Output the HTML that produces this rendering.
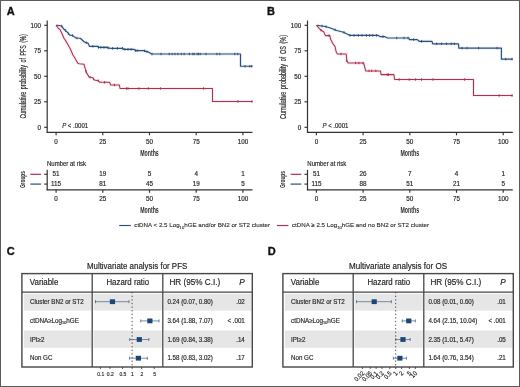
<!DOCTYPE html>
<html><head><meta charset="utf-8"><style>
html,body{margin:0;padding:0;background:#fff;}
#fig{position:relative;width:520px;height:387px;overflow:hidden;box-sizing:border-box;border:1px solid #5a5a5a;background:#fff;}
svg{position:absolute;left:-1px;top:-1px;will-change:transform;}
text{font-family:"Liberation Sans", sans-serif;} .tx{stroke:#2a2a2a;stroke-width:0.18px;} .tx2{stroke:#222;stroke-width:0.12px;}
</style></head><body>
<div id="fig"><svg width="520" height="387" viewBox="0 0 520 387">
<text x="6.7" y="14.7" font-size="11" text-anchor="start" fill="#111" font-weight="bold" stroke="#111" stroke-width="0.35">A</text>
<line x1="47.2" y1="20.5" x2="47.2" y2="132.8" stroke="#333" stroke-width="1.2" />
<line x1="46.6" y1="132.3" x2="252.5" y2="132.3" stroke="#333" stroke-width="1.2" />
<line x1="44.2" y1="25.3" x2="47.2" y2="25.3" stroke="#333" stroke-width="1.15" />
<text x="41.0" y="27.650000000000002" font-size="6.3" text-anchor="end" fill="#2a2a2a" class="tx" >100</text>
<line x1="44.2" y1="50.8" x2="47.2" y2="50.8" stroke="#333" stroke-width="1.15" />
<text x="41.0" y="53.15" font-size="6.3" text-anchor="end" fill="#2a2a2a" class="tx" >75</text>
<line x1="44.2" y1="76.3" x2="47.2" y2="76.3" stroke="#333" stroke-width="1.15" />
<text x="41.0" y="78.64999999999999" font-size="6.3" text-anchor="end" fill="#2a2a2a" class="tx" >50</text>
<line x1="44.2" y1="101.8" x2="47.2" y2="101.8" stroke="#333" stroke-width="1.15" />
<text x="41.0" y="104.14999999999999" font-size="6.3" text-anchor="end" fill="#2a2a2a" class="tx" >25</text>
<line x1="44.2" y1="127.3" x2="47.2" y2="127.3" stroke="#333" stroke-width="1.15" />
<text x="41.0" y="129.65" font-size="6.3" text-anchor="end" fill="#2a2a2a" class="tx" >0</text>
<line x1="56.1" y1="132.3" x2="56.1" y2="135.3" stroke="#333" stroke-width="1.15" />
<text x="56.1" y="144.1" font-size="6.3" text-anchor="middle" fill="#2a2a2a" class="tx" >0</text>
<line x1="102.80000000000001" y1="132.3" x2="102.80000000000001" y2="135.3" stroke="#333" stroke-width="1.15" />
<text x="102.80000000000001" y="144.1" font-size="6.3" text-anchor="middle" fill="#2a2a2a" class="tx" >25</text>
<line x1="149.5" y1="132.3" x2="149.5" y2="135.3" stroke="#333" stroke-width="1.15" />
<text x="149.5" y="144.1" font-size="6.3" text-anchor="middle" fill="#2a2a2a" class="tx" >50</text>
<line x1="196.20000000000002" y1="132.3" x2="196.20000000000002" y2="135.3" stroke="#333" stroke-width="1.15" />
<text x="196.20000000000002" y="144.1" font-size="6.3" text-anchor="middle" fill="#2a2a2a" class="tx" >75</text>
<line x1="242.9" y1="132.3" x2="242.9" y2="135.3" stroke="#333" stroke-width="1.15" />
<text x="242.9" y="144.1" font-size="6.3" text-anchor="middle" fill="#2a2a2a" class="tx" >100</text>
<text x="149.5" y="155.7" font-size="8.6" text-anchor="middle" fill="#2a2a2a" font-weight="bold" textLength="18.6" lengthAdjust="spacingAndGlyphs" >Months</text>
<text x="25.6" y="76.4" font-size="8.8" text-anchor="middle" fill="#2a2a2a" textLength="84.3" lengthAdjust="spacingAndGlyphs" style="word-spacing:1.8px" transform="rotate(-90 25.6 76.4)" stroke="#2a2a2a" stroke-width="0.2">Cumulative probability of PFS (%)</text>
<text x="62.2" y="127.5" font-size="6.6" text-anchor="start" fill="#2a2a2a" textLength="25.9" lengthAdjust="spacingAndGlyphs" class="tx" ><tspan font-style="italic">P</tspan> &lt; .0001</text>
<polyline points="56,25.3 59.4,25.5 61.7,26.2 64,29.3 66.3,31.2 69.8,35.1 72.5,35.5 74,36.6 75.9,38 80.2,38.2 84.4,42 88.2,43.4 89.4,46.3 98.2,46.3 98.2,47.4 107,47.4 108.6,48 111.7,48.4 122.9,48.4 123.5,49.3 134.2,49.3 135.4,50.6 143.8,50.6 146.5,51.6 148.5,52 151.5,54 240.5,54 240.5,66.2 252.5,66.2" fill="none" stroke="#2b4f7c" stroke-width="3.35" stroke-opacity="0.08" stroke-linejoin="round"/>
<polyline points="56,25.3 59.4,25.5 61.7,26.2 64,29.3 66.3,31.2 69.8,35.1 72.5,35.5 74,36.6 75.9,38 80.2,38.2 84.4,42 88.2,43.4 89.4,46.3 98.2,46.3 98.2,47.4 107,47.4 108.6,48 111.7,48.4 122.9,48.4 123.5,49.3 134.2,49.3 135.4,50.6 143.8,50.6 146.5,51.6 148.5,52 151.5,54 240.5,54 240.5,66.2 252.5,66.2" fill="none" stroke="#2b4f7c" stroke-width="1.15" stroke-linejoin="round"/>
<line x1="61.7" y1="25.0" x2="61.7" y2="27.4" stroke="#2b4f7c" stroke-width="1.0" />
<line x1="65.5" y1="29.33913043478261" x2="65.5" y2="31.73913043478261" stroke="#2b4f7c" stroke-width="1.0" />
<line x1="68.6" y1="32.56285714285714" x2="68.6" y2="34.962857142857146" stroke="#2b4f7c" stroke-width="1.0" />
<line x1="72.5" y1="34.3" x2="72.5" y2="36.7" stroke="#2b4f7c" stroke-width="1.0" />
<line x1="77" y1="36.85116279069767" x2="77" y2="39.25116279069768" stroke="#2b4f7c" stroke-width="1.0" />
<line x1="86.3" y1="41.49999999999999" x2="86.3" y2="43.9" stroke="#2b4f7c" stroke-width="1.0" />
<line x1="92.9" y1="45.099999999999994" x2="92.9" y2="47.5" stroke="#2b4f7c" stroke-width="1.0" />
<line x1="98.5" y1="46.199999999999996" x2="98.5" y2="48.6" stroke="#2b4f7c" stroke-width="1.0" />
<line x1="100.9" y1="46.199999999999996" x2="100.9" y2="48.6" stroke="#2b4f7c" stroke-width="1.0" />
<line x1="104" y1="46.199999999999996" x2="104" y2="48.6" stroke="#2b4f7c" stroke-width="1.0" />
<line x1="107.1" y1="46.2375" x2="107.1" y2="48.6375" stroke="#2b4f7c" stroke-width="1.0" />
<line x1="108.9" y1="46.83870967741935" x2="108.9" y2="49.23870967741936" stroke="#2b4f7c" stroke-width="1.0" />
<line x1="112.6" y1="47.199999999999996" x2="112.6" y2="49.6" stroke="#2b4f7c" stroke-width="1.0" />
<line x1="117.5" y1="47.199999999999996" x2="117.5" y2="49.6" stroke="#2b4f7c" stroke-width="1.0" />
<line x1="122.5" y1="47.199999999999996" x2="122.5" y2="49.6" stroke="#2b4f7c" stroke-width="1.0" />
<line x1="124.9" y1="48.099999999999994" x2="124.9" y2="50.5" stroke="#2b4f7c" stroke-width="1.0" />
<line x1="128" y1="48.099999999999994" x2="128" y2="50.5" stroke="#2b4f7c" stroke-width="1.0" />
<line x1="131.1" y1="48.099999999999994" x2="131.1" y2="50.5" stroke="#2b4f7c" stroke-width="1.0" />
<line x1="135.4" y1="49.4" x2="135.4" y2="51.800000000000004" stroke="#2b4f7c" stroke-width="1.0" />
<line x1="137.2" y1="49.4" x2="137.2" y2="51.800000000000004" stroke="#2b4f7c" stroke-width="1.0" />
<line x1="144.6" y1="49.69629629629629" x2="144.6" y2="52.096296296296295" stroke="#2b4f7c" stroke-width="1.0" />
<line x1="147.1" y1="50.519999999999996" x2="147.1" y2="52.92" stroke="#2b4f7c" stroke-width="1.0" />
<line x1="152" y1="52.8" x2="152" y2="55.2" stroke="#2b4f7c" stroke-width="1.0" />
<line x1="161" y1="52.8" x2="161" y2="55.2" stroke="#2b4f7c" stroke-width="1.0" />
<line x1="169.2" y1="52.8" x2="169.2" y2="55.2" stroke="#2b4f7c" stroke-width="1.0" />
<line x1="172.1" y1="52.8" x2="172.1" y2="55.2" stroke="#2b4f7c" stroke-width="1.0" />
<line x1="175" y1="52.8" x2="175" y2="55.2" stroke="#2b4f7c" stroke-width="1.0" />
<line x1="177.9" y1="52.8" x2="177.9" y2="55.2" stroke="#2b4f7c" stroke-width="1.0" />
<line x1="181.3" y1="52.8" x2="181.3" y2="55.2" stroke="#2b4f7c" stroke-width="1.0" />
<line x1="184.1" y1="52.8" x2="184.1" y2="55.2" stroke="#2b4f7c" stroke-width="1.0" />
<line x1="189.4" y1="52.8" x2="189.4" y2="55.2" stroke="#2b4f7c" stroke-width="1.0" />
<line x1="192.8" y1="52.8" x2="192.8" y2="55.2" stroke="#2b4f7c" stroke-width="1.0" />
<line x1="194.2" y1="52.8" x2="194.2" y2="55.2" stroke="#2b4f7c" stroke-width="1.0" />
<line x1="197.1" y1="52.8" x2="197.1" y2="55.2" stroke="#2b4f7c" stroke-width="1.0" />
<line x1="198.5" y1="52.8" x2="198.5" y2="55.2" stroke="#2b4f7c" stroke-width="1.0" />
<line x1="200.2" y1="52.8" x2="200.2" y2="55.2" stroke="#2b4f7c" stroke-width="1.0" />
<line x1="206" y1="52.8" x2="206" y2="55.2" stroke="#2b4f7c" stroke-width="1.0" />
<line x1="216.9" y1="52.8" x2="216.9" y2="55.2" stroke="#2b4f7c" stroke-width="1.0" />
<line x1="219.8" y1="52.8" x2="219.8" y2="55.2" stroke="#2b4f7c" stroke-width="1.0" />
<line x1="234.8" y1="52.8" x2="234.8" y2="55.2" stroke="#2b4f7c" stroke-width="1.0" />
<line x1="237.7" y1="52.8" x2="237.7" y2="55.2" stroke="#2b4f7c" stroke-width="1.0" />
<line x1="245.1" y1="65.0" x2="245.1" y2="67.4" stroke="#2b4f7c" stroke-width="1.0" />
<line x1="249.8" y1="65.0" x2="249.8" y2="67.4" stroke="#2b4f7c" stroke-width="1.0" />
<line x1="251.7" y1="65.0" x2="251.7" y2="67.4" stroke="#2b4f7c" stroke-width="1.0" />
<polyline points="56,25.3 58.6,28.5 60.2,29.7 64,38.2 66.7,42.4 70.5,49.3 72.9,55 74.6,57.5 75.8,59.7 77.8,63.3 79.3,63.7 84,64.3 86.3,72.4 89.2,77.1 92.7,77.7 94.4,80 98.5,80.8 99.7,82.3 109.5,82.3 110.7,85 119.4,85 120,88.5 212.5,88.5 212.5,101.5 252.5,101.5" fill="none" stroke="#b02e4e" stroke-width="3.25" stroke-opacity="0.08" stroke-linejoin="round"/>
<polyline points="56,25.3 58.6,28.5 60.2,29.7 64,38.2 66.7,42.4 70.5,49.3 72.9,55 74.6,57.5 75.8,59.7 77.8,63.3 79.3,63.7 84,64.3 86.3,72.4 89.2,77.1 92.7,77.7 94.4,80 98.5,80.8 99.7,82.3 109.5,82.3 110.7,85 119.4,85 120,88.5 212.5,88.5 212.5,101.5 252.5,101.5" fill="none" stroke="#b02e4e" stroke-width="1.05" stroke-linejoin="round"/>
<line x1="86" y1="70.14347826086957" x2="86" y2="72.54347826086958" stroke="#b02e4e" stroke-width="1.0" />
<line x1="90" y1="76.03714285714285" x2="90" y2="78.43714285714286" stroke="#b02e4e" stroke-width="1.0" />
<line x1="93.6" y1="77.71764705882352" x2="93.6" y2="80.11764705882352" stroke="#b02e4e" stroke-width="1.0" />
<line x1="98.3" y1="79.56097560975608" x2="98.3" y2="81.96097560975609" stroke="#b02e4e" stroke-width="1.0" />
<line x1="104.6" y1="81.1" x2="104.6" y2="83.5" stroke="#b02e4e" stroke-width="1.0" />
<line x1="114.4" y1="83.8" x2="114.4" y2="86.2" stroke="#b02e4e" stroke-width="1.0" />
<line x1="126.5" y1="87.3" x2="126.5" y2="89.7" stroke="#b02e4e" stroke-width="1.0" />
<line x1="128" y1="87.3" x2="128" y2="89.7" stroke="#b02e4e" stroke-width="1.0" />
<line x1="138.9" y1="87.3" x2="138.9" y2="89.7" stroke="#b02e4e" stroke-width="1.0" />
<line x1="148.3" y1="87.3" x2="148.3" y2="89.7" stroke="#b02e4e" stroke-width="1.0" />
<line x1="160.4" y1="87.3" x2="160.4" y2="89.7" stroke="#b02e4e" stroke-width="1.0" />
<line x1="203.6" y1="87.3" x2="203.6" y2="89.7" stroke="#b02e4e" stroke-width="1.0" />
<line x1="238" y1="100.3" x2="238" y2="102.7" stroke="#b02e4e" stroke-width="1.0" />
<line x1="252" y1="100.3" x2="252" y2="102.7" stroke="#b02e4e" stroke-width="1.0" />
<text x="47" y="166" font-size="6.6" text-anchor="start" fill="#2a2a2a" textLength="39.01" lengthAdjust="spacingAndGlyphs" class="tx" >Number at risk</text>
<line x1="47.2" y1="169.8" x2="47.2" y2="190.3" stroke="#333" stroke-width="1.2" />
<line x1="46.6" y1="189.8" x2="252.5" y2="189.8" stroke="#333" stroke-width="1.2" />
<line x1="44.2" y1="174.3" x2="47.2" y2="174.3" stroke="#333" stroke-width="1.15" />
<line x1="44.2" y1="184.1" x2="47.2" y2="184.1" stroke="#333" stroke-width="1.15" />
<line x1="30.3" y1="174.3" x2="41" y2="174.3" stroke="#b02e4e" stroke-width="1.2" />
<line x1="30.3" y1="184.1" x2="41" y2="184.1" stroke="#2b4f7c" stroke-width="1.2" />
<text x="24.8" y="179.6" font-size="8.0" text-anchor="middle" fill="#2a2a2a" font-weight="bold" textLength="17" lengthAdjust="spacingAndGlyphs" transform="rotate(-90 24.8 179.6)" >Groups</text>
<text x="56.1" y="176.3" font-size="6.3" text-anchor="middle" fill="#2a2a2a" class="tx" >51</text>
<text x="56.1" y="186.2" font-size="6.3" text-anchor="middle" fill="#2a2a2a" class="tx" >115</text>
<line x1="56.1" y1="189.8" x2="56.1" y2="192.8" stroke="#333" stroke-width="1.15" />
<text x="56.1" y="201.3" font-size="6.3" text-anchor="middle" fill="#2a2a2a" class="tx" >0</text>
<text x="102.80000000000001" y="176.3" font-size="6.3" text-anchor="middle" fill="#2a2a2a" class="tx" >19</text>
<text x="102.80000000000001" y="186.2" font-size="6.3" text-anchor="middle" fill="#2a2a2a" class="tx" >81</text>
<line x1="102.80000000000001" y1="189.8" x2="102.80000000000001" y2="192.8" stroke="#333" stroke-width="1.15" />
<text x="102.80000000000001" y="201.3" font-size="6.3" text-anchor="middle" fill="#2a2a2a" class="tx" >25</text>
<text x="149.5" y="176.3" font-size="6.3" text-anchor="middle" fill="#2a2a2a" class="tx" >5</text>
<text x="149.5" y="186.2" font-size="6.3" text-anchor="middle" fill="#2a2a2a" class="tx" >45</text>
<line x1="149.5" y1="189.8" x2="149.5" y2="192.8" stroke="#333" stroke-width="1.15" />
<text x="149.5" y="201.3" font-size="6.3" text-anchor="middle" fill="#2a2a2a" class="tx" >50</text>
<text x="196.20000000000002" y="176.3" font-size="6.3" text-anchor="middle" fill="#2a2a2a" class="tx" >4</text>
<text x="196.20000000000002" y="186.2" font-size="6.3" text-anchor="middle" fill="#2a2a2a" class="tx" >19</text>
<line x1="196.20000000000002" y1="189.8" x2="196.20000000000002" y2="192.8" stroke="#333" stroke-width="1.15" />
<text x="196.20000000000002" y="201.3" font-size="6.3" text-anchor="middle" fill="#2a2a2a" class="tx" >75</text>
<text x="242.9" y="176.3" font-size="6.3" text-anchor="middle" fill="#2a2a2a" class="tx" >1</text>
<text x="242.9" y="186.2" font-size="6.3" text-anchor="middle" fill="#2a2a2a" class="tx" >5</text>
<line x1="242.9" y1="189.8" x2="242.9" y2="192.8" stroke="#333" stroke-width="1.15" />
<text x="242.9" y="201.3" font-size="6.3" text-anchor="middle" fill="#2a2a2a" class="tx" >100</text>
<text x="149.5" y="212.9" font-size="8.6" text-anchor="middle" fill="#2a2a2a" font-weight="bold" textLength="18.6" lengthAdjust="spacingAndGlyphs" >Months</text>
<text x="267.0" y="14.7" font-size="11" text-anchor="start" fill="#111" font-weight="bold" stroke="#111" stroke-width="0.35">B</text>
<line x1="307.5" y1="20.5" x2="307.5" y2="132.8" stroke="#333" stroke-width="1.2" />
<line x1="306.9" y1="132.3" x2="512.8" y2="132.3" stroke="#333" stroke-width="1.2" />
<line x1="304.5" y1="25.3" x2="307.5" y2="25.3" stroke="#333" stroke-width="1.15" />
<text x="301.3" y="27.650000000000002" font-size="6.3" text-anchor="end" fill="#2a2a2a" class="tx" >100</text>
<line x1="304.5" y1="50.8" x2="307.5" y2="50.8" stroke="#333" stroke-width="1.15" />
<text x="301.3" y="53.15" font-size="6.3" text-anchor="end" fill="#2a2a2a" class="tx" >75</text>
<line x1="304.5" y1="76.3" x2="307.5" y2="76.3" stroke="#333" stroke-width="1.15" />
<text x="301.3" y="78.64999999999999" font-size="6.3" text-anchor="end" fill="#2a2a2a" class="tx" >50</text>
<line x1="304.5" y1="101.8" x2="307.5" y2="101.8" stroke="#333" stroke-width="1.15" />
<text x="301.3" y="104.14999999999999" font-size="6.3" text-anchor="end" fill="#2a2a2a" class="tx" >25</text>
<line x1="304.5" y1="127.3" x2="307.5" y2="127.3" stroke="#333" stroke-width="1.15" />
<text x="301.3" y="129.65" font-size="6.3" text-anchor="end" fill="#2a2a2a" class="tx" >0</text>
<line x1="316.40000000000003" y1="132.3" x2="316.40000000000003" y2="135.3" stroke="#333" stroke-width="1.15" />
<text x="316.40000000000003" y="144.1" font-size="6.3" text-anchor="middle" fill="#2a2a2a" class="tx" >0</text>
<line x1="363.1" y1="132.3" x2="363.1" y2="135.3" stroke="#333" stroke-width="1.15" />
<text x="363.1" y="144.1" font-size="6.3" text-anchor="middle" fill="#2a2a2a" class="tx" >25</text>
<line x1="409.80000000000007" y1="132.3" x2="409.80000000000007" y2="135.3" stroke="#333" stroke-width="1.15" />
<text x="409.80000000000007" y="144.1" font-size="6.3" text-anchor="middle" fill="#2a2a2a" class="tx" >50</text>
<line x1="456.50000000000006" y1="132.3" x2="456.50000000000006" y2="135.3" stroke="#333" stroke-width="1.15" />
<text x="456.50000000000006" y="144.1" font-size="6.3" text-anchor="middle" fill="#2a2a2a" class="tx" >75</text>
<line x1="503.20000000000005" y1="132.3" x2="503.20000000000005" y2="135.3" stroke="#333" stroke-width="1.15" />
<text x="503.20000000000005" y="144.1" font-size="6.3" text-anchor="middle" fill="#2a2a2a" class="tx" >100</text>
<text x="409.8" y="155.7" font-size="8.6" text-anchor="middle" fill="#2a2a2a" font-weight="bold" textLength="18.6" lengthAdjust="spacingAndGlyphs" >Months</text>
<text x="285.90000000000003" y="77.0" font-size="8.8" text-anchor="middle" fill="#2a2a2a" textLength="84.1" lengthAdjust="spacingAndGlyphs" style="word-spacing:1.8px" transform="rotate(-90 285.90000000000003 77.0)" stroke="#2a2a2a" stroke-width="0.2">Cumulative probability of OS (%)</text>
<text x="322.5" y="127.5" font-size="6.6" text-anchor="start" fill="#2a2a2a" textLength="25.9" lengthAdjust="spacingAndGlyphs" class="tx" ><tspan font-style="italic">P</tspan> &lt; .0001</text>
<polyline points="316.5,25.3 325.4,26.5 331,28.3 336.7,30.5 343.5,32.2 348.1,34.5 350,35.4 378.2,35.4 380.1,36.6 384.4,36.6 387.5,38 409,38 409.3,39.6 417.3,39.6 419.2,41.3 431.9,41.3 432.7,43.8 458.5,43.8 458.8,48.1 501.4,48.1 501.4,59.1 512.7,59.1" fill="none" stroke="#2b4f7c" stroke-width="3.35" stroke-opacity="0.08" stroke-linejoin="round"/>
<polyline points="316.5,25.3 325.4,26.5 331,28.3 336.7,30.5 343.5,32.2 348.1,34.5 350,35.4 378.2,35.4 380.1,36.6 384.4,36.6 387.5,38 409,38 409.3,39.6 417.3,39.6 419.2,41.3 431.9,41.3 432.7,43.8 458.5,43.8 458.8,48.1 501.4,48.1 501.4,59.1 512.7,59.1" fill="none" stroke="#2b4f7c" stroke-width="1.15" stroke-linejoin="round"/>
<line x1="322" y1="24.841573033707867" x2="322" y2="27.241573033707866" stroke="#2b4f7c" stroke-width="1.0" />
<line x1="326" y1="25.49285714285715" x2="326" y2="27.89285714285715" stroke="#2b4f7c" stroke-width="1.0" />
<line x1="335" y1="28.64385964912281" x2="335" y2="31.04385964912281" stroke="#2b4f7c" stroke-width="1.0" />
<line x1="344" y1="31.250000000000004" x2="344" y2="33.650000000000006" stroke="#2b4f7c" stroke-width="1.0" />
<line x1="349.9" y1="34.15263157894735" x2="349.9" y2="36.552631578947356" stroke="#2b4f7c" stroke-width="1.0" />
<line x1="354" y1="34.199999999999996" x2="354" y2="36.6" stroke="#2b4f7c" stroke-width="1.0" />
<line x1="358.4" y1="34.199999999999996" x2="358.4" y2="36.6" stroke="#2b4f7c" stroke-width="1.0" />
<line x1="362" y1="34.199999999999996" x2="362" y2="36.6" stroke="#2b4f7c" stroke-width="1.0" />
<line x1="366.5" y1="34.199999999999996" x2="366.5" y2="36.6" stroke="#2b4f7c" stroke-width="1.0" />
<line x1="369.6" y1="34.199999999999996" x2="369.6" y2="36.6" stroke="#2b4f7c" stroke-width="1.0" />
<line x1="372.7" y1="34.199999999999996" x2="372.7" y2="36.6" stroke="#2b4f7c" stroke-width="1.0" />
<line x1="376.5" y1="34.199999999999996" x2="376.5" y2="36.6" stroke="#2b4f7c" stroke-width="1.0" />
<line x1="383" y1="35.4" x2="383" y2="37.800000000000004" stroke="#2b4f7c" stroke-width="1.0" />
<line x1="396.7" y1="36.8" x2="396.7" y2="39.2" stroke="#2b4f7c" stroke-width="1.0" />
<line x1="404" y1="36.8" x2="404" y2="39.2" stroke="#2b4f7c" stroke-width="1.0" />
<line x1="408" y1="36.8" x2="408" y2="39.2" stroke="#2b4f7c" stroke-width="1.0" />
<line x1="413.6" y1="38.4" x2="413.6" y2="40.800000000000004" stroke="#2b4f7c" stroke-width="1.0" />
<line x1="421.6" y1="40.099999999999994" x2="421.6" y2="42.5" stroke="#2b4f7c" stroke-width="1.0" />
<line x1="436.7" y1="42.599999999999994" x2="436.7" y2="45.0" stroke="#2b4f7c" stroke-width="1.0" />
<line x1="441.6" y1="42.599999999999994" x2="441.6" y2="45.0" stroke="#2b4f7c" stroke-width="1.0" />
<line x1="446.5" y1="42.599999999999994" x2="446.5" y2="45.0" stroke="#2b4f7c" stroke-width="1.0" />
<line x1="451.3" y1="42.599999999999994" x2="451.3" y2="45.0" stroke="#2b4f7c" stroke-width="1.0" />
<line x1="454.4" y1="42.599999999999994" x2="454.4" y2="45.0" stroke="#2b4f7c" stroke-width="1.0" />
<line x1="462" y1="46.9" x2="462" y2="49.300000000000004" stroke="#2b4f7c" stroke-width="1.0" />
<line x1="467" y1="46.9" x2="467" y2="49.300000000000004" stroke="#2b4f7c" stroke-width="1.0" />
<line x1="478.6" y1="46.9" x2="478.6" y2="49.300000000000004" stroke="#2b4f7c" stroke-width="1.0" />
<line x1="497" y1="46.9" x2="497" y2="49.300000000000004" stroke="#2b4f7c" stroke-width="1.0" />
<line x1="505.7" y1="57.9" x2="505.7" y2="60.300000000000004" stroke="#2b4f7c" stroke-width="1.0" />
<line x1="512" y1="57.9" x2="512" y2="60.300000000000004" stroke="#2b4f7c" stroke-width="1.0" />
<polyline points="316.5,25.3 319.1,28.3 321.4,30.5 323.7,31.7 325.4,35.6 329.9,35.6 330.5,39 332.75,43.6 335,46.4 336.2,52 337.4,54 346.2,54 346.8,60.8 348.2,63 363.6,63 365.7,70.9 380.5,70.9 381.1,74.6 393.9,74.6 394.6,79.5 473.5,79.5 473.5,95.5 512.7,95.5" fill="none" stroke="#b02e4e" stroke-width="3.25" stroke-opacity="0.08" stroke-linejoin="round"/>
<polyline points="316.5,25.3 319.1,28.3 321.4,30.5 323.7,31.7 325.4,35.6 329.9,35.6 330.5,39 332.75,43.6 335,46.4 336.2,52 337.4,54 346.2,54 346.8,60.8 348.2,63 363.6,63 365.7,70.9 380.5,70.9 381.1,74.6 393.9,74.6 394.6,79.5 473.5,79.5 473.5,95.5 512.7,95.5" fill="none" stroke="#b02e4e" stroke-width="1.05" stroke-linejoin="round"/>
<line x1="321" y1="28.91739130434784" x2="321" y2="31.31739130434784" stroke="#b02e4e" stroke-width="1.0" />
<line x1="329" y1="34.4" x2="329" y2="36.800000000000004" stroke="#b02e4e" stroke-width="1.0" />
<line x1="341" y1="52.8" x2="341" y2="55.2" stroke="#b02e4e" stroke-width="1.0" />
<line x1="346.8" y1="59.599999999999994" x2="346.8" y2="62.0" stroke="#b02e4e" stroke-width="1.0" />
<line x1="355.6" y1="61.8" x2="355.6" y2="64.2" stroke="#b02e4e" stroke-width="1.0" />
<line x1="358.9" y1="61.8" x2="358.9" y2="64.2" stroke="#b02e4e" stroke-width="1.0" />
<line x1="363" y1="61.8" x2="363" y2="64.2" stroke="#b02e4e" stroke-width="1.0" />
<line x1="369" y1="69.7" x2="369" y2="72.10000000000001" stroke="#b02e4e" stroke-width="1.0" />
<line x1="371.7" y1="69.7" x2="371.7" y2="72.10000000000001" stroke="#b02e4e" stroke-width="1.0" />
<line x1="375.8" y1="69.7" x2="375.8" y2="72.10000000000001" stroke="#b02e4e" stroke-width="1.0" />
<line x1="387.2" y1="73.39999999999999" x2="387.2" y2="75.8" stroke="#b02e4e" stroke-width="1.0" />
<line x1="388.5" y1="73.39999999999999" x2="388.5" y2="75.8" stroke="#b02e4e" stroke-width="1.0" />
<line x1="399.2" y1="78.3" x2="399.2" y2="80.7" stroke="#b02e4e" stroke-width="1.0" />
<line x1="409.2" y1="78.3" x2="409.2" y2="80.7" stroke="#b02e4e" stroke-width="1.0" />
<line x1="415.4" y1="78.3" x2="415.4" y2="80.7" stroke="#b02e4e" stroke-width="1.0" />
<line x1="421.5" y1="78.3" x2="421.5" y2="80.7" stroke="#b02e4e" stroke-width="1.0" />
<line x1="433" y1="78.3" x2="433" y2="80.7" stroke="#b02e4e" stroke-width="1.0" />
<line x1="464.6" y1="78.3" x2="464.6" y2="80.7" stroke="#b02e4e" stroke-width="1.0" />
<line x1="499.2" y1="94.3" x2="499.2" y2="96.7" stroke="#b02e4e" stroke-width="1.0" />
<line x1="512" y1="94.3" x2="512" y2="96.7" stroke="#b02e4e" stroke-width="1.0" />
<text x="307.3" y="166" font-size="6.6" text-anchor="start" fill="#2a2a2a" textLength="39.01" lengthAdjust="spacingAndGlyphs" class="tx" >Number at risk</text>
<line x1="307.5" y1="169.8" x2="307.5" y2="190.3" stroke="#333" stroke-width="1.2" />
<line x1="306.9" y1="189.8" x2="512.8" y2="189.8" stroke="#333" stroke-width="1.2" />
<line x1="304.5" y1="174.3" x2="307.5" y2="174.3" stroke="#333" stroke-width="1.15" />
<line x1="304.5" y1="184.1" x2="307.5" y2="184.1" stroke="#333" stroke-width="1.15" />
<line x1="290.6" y1="174.3" x2="301.3" y2="174.3" stroke="#b02e4e" stroke-width="1.2" />
<line x1="290.6" y1="184.1" x2="301.3" y2="184.1" stroke="#2b4f7c" stroke-width="1.2" />
<text x="285.1" y="179.6" font-size="8.0" text-anchor="middle" fill="#2a2a2a" font-weight="bold" textLength="17" lengthAdjust="spacingAndGlyphs" transform="rotate(-90 285.1 179.6)" >Groups</text>
<text x="316.40000000000003" y="176.3" font-size="6.3" text-anchor="middle" fill="#2a2a2a" class="tx" >51</text>
<text x="316.40000000000003" y="186.2" font-size="6.3" text-anchor="middle" fill="#2a2a2a" class="tx" >115</text>
<line x1="316.40000000000003" y1="189.8" x2="316.40000000000003" y2="192.8" stroke="#333" stroke-width="1.15" />
<text x="316.40000000000003" y="201.3" font-size="6.3" text-anchor="middle" fill="#2a2a2a" class="tx" >0</text>
<text x="363.1" y="176.3" font-size="6.3" text-anchor="middle" fill="#2a2a2a" class="tx" >26</text>
<text x="363.1" y="186.2" font-size="6.3" text-anchor="middle" fill="#2a2a2a" class="tx" >88</text>
<line x1="363.1" y1="189.8" x2="363.1" y2="192.8" stroke="#333" stroke-width="1.15" />
<text x="363.1" y="201.3" font-size="6.3" text-anchor="middle" fill="#2a2a2a" class="tx" >25</text>
<text x="409.80000000000007" y="176.3" font-size="6.3" text-anchor="middle" fill="#2a2a2a" class="tx" >7</text>
<text x="409.80000000000007" y="186.2" font-size="6.3" text-anchor="middle" fill="#2a2a2a" class="tx" >51</text>
<line x1="409.80000000000007" y1="189.8" x2="409.80000000000007" y2="192.8" stroke="#333" stroke-width="1.15" />
<text x="409.80000000000007" y="201.3" font-size="6.3" text-anchor="middle" fill="#2a2a2a" class="tx" >50</text>
<text x="456.50000000000006" y="176.3" font-size="6.3" text-anchor="middle" fill="#2a2a2a" class="tx" >4</text>
<text x="456.50000000000006" y="186.2" font-size="6.3" text-anchor="middle" fill="#2a2a2a" class="tx" >21</text>
<line x1="456.50000000000006" y1="189.8" x2="456.50000000000006" y2="192.8" stroke="#333" stroke-width="1.15" />
<text x="456.50000000000006" y="201.3" font-size="6.3" text-anchor="middle" fill="#2a2a2a" class="tx" >75</text>
<text x="503.20000000000005" y="176.3" font-size="6.3" text-anchor="middle" fill="#2a2a2a" class="tx" >1</text>
<text x="503.20000000000005" y="186.2" font-size="6.3" text-anchor="middle" fill="#2a2a2a" class="tx" >5</text>
<line x1="503.20000000000005" y1="189.8" x2="503.20000000000005" y2="192.8" stroke="#333" stroke-width="1.15" />
<text x="503.20000000000005" y="201.3" font-size="6.3" text-anchor="middle" fill="#2a2a2a" class="tx" >100</text>
<text x="409.8" y="212.9" font-size="8.6" text-anchor="middle" fill="#2a2a2a" font-weight="bold" textLength="18.6" lengthAdjust="spacingAndGlyphs" >Months</text>
<line x1="119.2" y1="225.5" x2="130.8" y2="225.5" stroke="#2b4f7c" stroke-width="1.15" />
<text x="134.3" y="227.2" font-size="6" text-anchor="start" fill="#333" textLength="135.7" lengthAdjust="spacingAndGlyphs" class="tx2" >ctDNA &lt; 2.5 Log<tspan font-size="4.0" dy="1.6">10</tspan><tspan dy="-1.6">hGE and/or BN2 or ST2 cluster</tspan></text>
<line x1="276.9" y1="225.5" x2="288.5" y2="225.5" stroke="#b02e4e" stroke-width="1.15" />
<text x="292" y="227.2" font-size="6" text-anchor="start" fill="#333" textLength="137" lengthAdjust="spacingAndGlyphs" class="tx2" >ctDNA ≥ 2.5 Log<tspan font-size="4.0" dy="1.6">10</tspan><tspan dy="-1.6">hGE and no BN2 or ST2 cluster</tspan></text>
<text x="6.7" y="255.4" font-size="11" text-anchor="start" fill="#111" font-weight="bold" stroke="#111" stroke-width="0.35">C</text>
<text x="137.1" y="268.6" font-size="8.3" text-anchor="middle" fill="#222" textLength="100.4" lengthAdjust="spacingAndGlyphs" class="tx" >Multivariate analysis for PFS</text>
<rect x="23.799999999999997" y="293.79999999999995" width="67.70000000000002" height="16.800000000000068" fill="#e6e6e6" />
<rect x="93.5" y="293.79999999999995" width="68.30000000000001" height="16.800000000000068" fill="#e6e6e6" />
<rect x="164.10000000000002" y="293.79999999999995" width="87.4" height="16.800000000000068" fill="#e6e6e6" />
<rect x="23.799999999999997" y="330.5" width="67.70000000000002" height="17.30000000000001" fill="#e6e6e6" />
<rect x="93.5" y="330.5" width="68.30000000000001" height="17.30000000000001" fill="#e6e6e6" />
<rect x="164.10000000000002" y="330.5" width="87.4" height="17.30000000000001" fill="#e6e6e6" />
<line x1="132.1" y1="292.1" x2="132.1" y2="367" stroke="#333" stroke-width="0.9" stroke-dasharray="1.3,2.3"/>
<rect x="21.9" y="273.6" width="230.4" height="93.39999999999998" fill="none" stroke="#474747" stroke-width="1.4"/>
<line x1="21.9" y1="292.1" x2="252.3" y2="292.1" stroke="#474747" stroke-width="1.4" />
<line x1="92.2" y1="273.6" x2="92.2" y2="367" stroke="#474747" stroke-width="1.3" />
<line x1="162.8" y1="273.6" x2="162.8" y2="367" stroke="#474747" stroke-width="1.3" />
<text x="29.8" y="284.6" font-size="8.25" text-anchor="start" fill="#222" textLength="28.5" lengthAdjust="spacingAndGlyphs" class="tx" >Variable</text>
<text x="127.8" y="284.6" font-size="8.25" text-anchor="middle" fill="#222" textLength="42.7" lengthAdjust="spacingAndGlyphs" class="tx" >Hazard ratio</text>
<text x="169.4" y="284.6" font-size="8.3" text-anchor="start" fill="#222" textLength="50.8" lengthAdjust="spacingAndGlyphs" class="tx" >HR (95% C.I.)</text>
<text x="239.2" y="284.6" font-size="8.2" text-anchor="start" fill="#222" style="font-style:italic" class="tx" >P</text>
<text x="30" y="303.8" font-size="6.57" text-anchor="start" fill="#2a2a2a" textLength="53.75" lengthAdjust="spacingAndGlyphs" class="tx">Cluster BN2 or ST2</text>
<text x="167.4" y="303.9" font-size="6.57" text-anchor="start" fill="#2a2a2a" textLength="45.49" lengthAdjust="spacingAndGlyphs" class="tx">0.24 (0.07, 0.80)</text>
<text x="244.8" y="303.9" font-size="6.57" text-anchor="end" fill="#2a2a2a" textLength="8.62" lengthAdjust="spacingAndGlyphs" class="tx">.02</text>
<line x1="95.48960786845194" y1="301.7" x2="129.02795258764462" y2="301.7" stroke="#5a7292" stroke-width="0.8" />
<line x1="95.48960786845194" y1="300.2" x2="95.48960786845194" y2="303.2" stroke="#4a6080" stroke-width="0.8" />
<line x1="129.02795258764462" y1="300.2" x2="129.02795258764462" y2="303.2" stroke="#4a6080" stroke-width="0.8" />
<rect x="109.85269636225792" y="299.3" width="5.2" height="4.8" fill="#1c4677" />
<text x="30" y="323.0" font-size="6.6" text-anchor="start" fill="#2a2a2a" textLength="48.9" lengthAdjust="spacingAndGlyphs" class="tx">ctDNA≥Log<tspan font-size="4.0" dy="1.4">10</tspan><tspan dy="-1.4">hGE</tspan></text>
<text x="167.4" y="323.09999999999997" font-size="6.57" text-anchor="start" fill="#2a2a2a" textLength="45.49" lengthAdjust="spacingAndGlyphs" class="tx">3.64 (1.88, 7.07)</text>
<text x="244.8" y="323.09999999999997" font-size="6.57" text-anchor="end" fill="#2a2a2a" textLength="17.41" lengthAdjust="spacingAndGlyphs" class="tx">&lt; .001</text>
<line x1="140.79080382165864" y1="320.9" x2="159.0265954173617" y2="320.9" stroke="#5a7292" stroke-width="0.8" />
<line x1="140.79080382165864" y1="319.4" x2="140.79080382165864" y2="322.4" stroke="#4a6080" stroke-width="0.8" />
<line x1="159.0265954173617" y1="319.4" x2="159.0265954173617" y2="322.4" stroke="#4a6080" stroke-width="0.8" />
<rect x="147.28691386167506" y="318.5" width="5.2" height="4.8" fill="#1c4677" />
<text x="30" y="341.6" font-size="6.57" text-anchor="start" fill="#2a2a2a" textLength="14.43" lengthAdjust="spacingAndGlyphs" class="tx">IPI≥2</text>
<text x="167.4" y="341.7" font-size="6.57" text-anchor="start" fill="#2a2a2a" textLength="45.49" lengthAdjust="spacingAndGlyphs" class="tx">1.69 (0.84, 3.38)</text>
<text x="244.8" y="341.7" font-size="6.57" text-anchor="end" fill="#2a2a2a" textLength="8.62" lengthAdjust="spacingAndGlyphs" class="tx">.14</text>
<line x1="129.69965336816165" y1="339.5" x2="148.86665939880166" y2="339.5" stroke="#5a7292" stroke-width="0.8" />
<line x1="129.69965336816165" y1="338.0" x2="129.69965336816165" y2="341.0" stroke="#4a6080" stroke-width="0.8" />
<line x1="148.86665939880166" y1="338.0" x2="148.86665939880166" y2="341.0" stroke="#4a6080" stroke-width="0.8" />
<rect x="136.72400853625345" y="337.1" width="5.2" height="4.8" fill="#1c4677" />
<text x="30" y="360.3" font-size="6.57" text-anchor="start" fill="#2a2a2a" textLength="22.4" lengthAdjust="spacingAndGlyphs" class="tx">Non GC</text>
<text x="167.4" y="360.4" font-size="6.57" text-anchor="start" fill="#2a2a2a" textLength="45.49" lengthAdjust="spacingAndGlyphs" class="tx">1.58 (0.83, 3.02)</text>
<text x="244.8" y="360.4" font-size="6.57" text-anchor="end" fill="#2a2a2a" textLength="8.62" lengthAdjust="spacingAndGlyphs" class="tx">.17</text>
<line x1="129.53477552832155" y1="358.2" x2="147.31622009174168" y2="358.2" stroke="#5a7292" stroke-width="0.8" />
<line x1="129.53477552832155" y1="356.7" x2="129.53477552832155" y2="359.7" stroke="#4a6080" stroke-width="0.8" />
<line x1="147.31622009174168" y1="356.7" x2="147.31622009174168" y2="359.7" stroke="#4a6080" stroke-width="0.8" />
<rect x="135.7974296564552" y="355.8" width="5.2" height="4.8" fill="#1c4677" />
<line x1="100.39999999999999" y1="367" x2="100.39999999999999" y2="369" stroke="#333" stroke-width="0.8" />
<text x="100.69999999999999" y="375.6" font-size="5.7" text-anchor="middle" fill="#2a2a2a" textLength="6.95" lengthAdjust="spacingAndGlyphs" class="tx" >0.1</text>
<line x1="109.9426508625482" y1="367" x2="109.9426508625482" y2="369" stroke="#333" stroke-width="0.8" />
<text x="110.2426508625482" y="375.6" font-size="5.7" text-anchor="middle" fill="#2a2a2a" textLength="6.95" lengthAdjust="spacingAndGlyphs" class="tx" >0.2</text>
<line x1="122.5573491374518" y1="367" x2="122.5573491374518" y2="369" stroke="#333" stroke-width="0.8" />
<text x="122.85734913745179" y="375.6" font-size="5.7" text-anchor="middle" fill="#2a2a2a" textLength="6.95" lengthAdjust="spacingAndGlyphs" class="tx" >0.5</text>
<line x1="132.1" y1="367" x2="132.1" y2="369" stroke="#333" stroke-width="0.8" />
<text x="132.4" y="375.6" font-size="5.7" text-anchor="middle" fill="#2a2a2a" textLength="2.78" lengthAdjust="spacingAndGlyphs" class="tx" >1</text>
<line x1="141.6426508625482" y1="367" x2="141.6426508625482" y2="369" stroke="#333" stroke-width="0.8" />
<text x="141.94265086254822" y="375.6" font-size="5.7" text-anchor="middle" fill="#2a2a2a" textLength="2.78" lengthAdjust="spacingAndGlyphs" class="tx" >2</text>
<line x1="154.2573491374518" y1="367" x2="154.2573491374518" y2="369" stroke="#333" stroke-width="0.8" />
<text x="154.5573491374518" y="375.6" font-size="5.7" text-anchor="middle" fill="#2a2a2a" textLength="2.78" lengthAdjust="spacingAndGlyphs" class="tx" >5</text>
<text x="267.7" y="255.4" font-size="11" text-anchor="start" fill="#111" font-weight="bold" stroke="#111" stroke-width="0.35">D</text>
<text x="398.1" y="268.6" font-size="8.3" text-anchor="middle" fill="#222" textLength="98.0" lengthAdjust="spacingAndGlyphs" class="tx" >Multivariate analysis for OS</text>
<rect x="284.79999999999995" y="293.79999999999995" width="67.70000000000002" height="16.800000000000068" fill="#e6e6e6" />
<rect x="354.5" y="293.79999999999995" width="68.30000000000003" height="16.800000000000068" fill="#e6e6e6" />
<rect x="425.1" y="293.79999999999995" width="87.39999999999995" height="16.800000000000068" fill="#e6e6e6" />
<rect x="284.79999999999995" y="330.5" width="67.70000000000002" height="17.30000000000001" fill="#e6e6e6" />
<rect x="354.5" y="330.5" width="68.30000000000003" height="17.30000000000001" fill="#e6e6e6" />
<rect x="425.1" y="330.5" width="87.39999999999995" height="17.30000000000001" fill="#e6e6e6" />
<line x1="395.7" y1="292.1" x2="395.7" y2="367" stroke="#333" stroke-width="0.9" stroke-dasharray="1.3,2.3"/>
<rect x="282.9" y="273.6" width="230.39999999999998" height="93.39999999999998" fill="none" stroke="#474747" stroke-width="1.4"/>
<line x1="282.9" y1="292.1" x2="513.3" y2="292.1" stroke="#474747" stroke-width="1.4" />
<line x1="353.2" y1="273.6" x2="353.2" y2="367" stroke="#474747" stroke-width="1.3" />
<line x1="423.8" y1="273.6" x2="423.8" y2="367" stroke="#474747" stroke-width="1.3" />
<text x="290.8" y="284.6" font-size="8.25" text-anchor="start" fill="#222" textLength="28.5" lengthAdjust="spacingAndGlyphs" class="tx" >Variable</text>
<text x="388.8" y="284.6" font-size="8.25" text-anchor="middle" fill="#222" textLength="42.7" lengthAdjust="spacingAndGlyphs" class="tx" >Hazard ratio</text>
<text x="430.4" y="284.6" font-size="8.3" text-anchor="start" fill="#222" textLength="50.8" lengthAdjust="spacingAndGlyphs" class="tx" >HR (95% C.I.)</text>
<text x="500.2" y="284.6" font-size="8.2" text-anchor="start" fill="#222" style="font-style:italic" class="tx" >P</text>
<text x="291" y="303.8" font-size="6.57" text-anchor="start" fill="#2a2a2a" textLength="53.75" lengthAdjust="spacingAndGlyphs" class="tx">Cluster BN2 or ST2</text>
<text x="428.4" y="303.9" font-size="6.57" text-anchor="start" fill="#2a2a2a" textLength="45.49" lengthAdjust="spacingAndGlyphs" class="tx">0.08 (0.01, 0.60)</text>
<text x="505.8" y="303.9" font-size="6.57" text-anchor="end" fill="#2a2a2a" textLength="8.62" lengthAdjust="spacingAndGlyphs" class="tx">.01</text>
<line x1="356.5" y1="301.7" x2="391.3517645075194" y2="301.7" stroke="#5a7292" stroke-width="0.8" />
<line x1="356.5" y1="300.2" x2="356.5" y2="303.2" stroke="#4a6080" stroke-width="0.8" />
<line x1="391.3517645075194" y1="300.2" x2="391.3517645075194" y2="303.2" stroke="#4a6080" stroke-width="0.8" />
<rect x="371.60056374504205" y="299.3" width="5.2" height="4.8" fill="#1c4677" />
<text x="291" y="323.0" font-size="6.6" text-anchor="start" fill="#2a2a2a" textLength="48.9" lengthAdjust="spacingAndGlyphs" class="tx">ctDNA≥Log<tspan font-size="4.0" dy="1.4">10</tspan><tspan dy="-1.4">hGE</tspan></text>
<text x="428.4" y="323.09999999999997" font-size="6.57" text-anchor="start" fill="#2a2a2a" textLength="48.94" lengthAdjust="spacingAndGlyphs" class="tx">4.64 (2.15, 10.04)</text>
<text x="505.8" y="323.09999999999997" font-size="6.57" text-anchor="end" fill="#2a2a2a" textLength="17.41" lengthAdjust="spacingAndGlyphs" class="tx">&lt; .001</text>
<line x1="402.21579381434583" y1="320.9" x2="415.3339807710564" y2="320.9" stroke="#5a7292" stroke-width="0.8" />
<line x1="402.21579381434583" y1="319.4" x2="402.21579381434583" y2="322.4" stroke="#4a6080" stroke-width="0.8" />
<line x1="415.3339807710564" y1="319.4" x2="415.3339807710564" y2="322.4" stroke="#4a6080" stroke-width="0.8" />
<rect x="406.1637524188756" y="318.5" width="5.2" height="4.8" fill="#1c4677" />
<text x="291" y="341.6" font-size="6.57" text-anchor="start" fill="#2a2a2a" textLength="14.43" lengthAdjust="spacingAndGlyphs" class="tx">IPI≥2</text>
<text x="428.4" y="341.7" font-size="6.57" text-anchor="start" fill="#2a2a2a" textLength="45.49" lengthAdjust="spacingAndGlyphs" class="tx">2.35 (1.01, 5.47)</text>
<text x="505.8" y="341.7" font-size="6.57" text-anchor="end" fill="#2a2a2a" textLength="8.62" lengthAdjust="spacingAndGlyphs" class="tx">.05</text>
<line x1="395.7846989261398" y1="339.5" x2="410.16455159613525" y2="339.5" stroke="#5a7292" stroke-width="0.8" />
<line x1="395.7846989261398" y1="338.0" x2="395.7846989261398" y2="341.0" stroke="#4a6080" stroke-width="0.8" />
<line x1="410.16455159613525" y1="338.0" x2="410.16455159613525" y2="341.0" stroke="#4a6080" stroke-width="0.8" />
<rect x="400.372930100526" y="337.1" width="5.2" height="4.8" fill="#1c4677" />
<text x="291" y="360.3" font-size="6.57" text-anchor="start" fill="#2a2a2a" textLength="22.4" lengthAdjust="spacingAndGlyphs" class="tx">Non GC</text>
<text x="428.4" y="360.4" font-size="6.57" text-anchor="start" fill="#2a2a2a" textLength="45.49" lengthAdjust="spacingAndGlyphs" class="tx">1.64 (0.76, 3.54)</text>
<text x="505.8" y="360.4" font-size="6.57" text-anchor="end" fill="#2a2a2a" textLength="8.62" lengthAdjust="spacingAndGlyphs" class="tx">.21</text>
<line x1="393.3639464087035" y1="358.2" x2="406.46046393570543" y2="358.2" stroke="#5a7292" stroke-width="0.8" />
<line x1="393.3639464087035" y1="356.7" x2="393.3639464087035" y2="359.7" stroke="#4a6080" stroke-width="0.8" />
<line x1="406.46046393570543" y1="356.7" x2="406.46046393570543" y2="359.7" stroke="#4a6080" stroke-width="0.8" />
<rect x="397.3109394217348" y="355.8" width="5.2" height="4.8" fill="#1c4677" />
<line x1="362.40018791501404" y1="367" x2="362.40018791501404" y2="369" stroke="#333" stroke-width="0.8" />
<text x="364.70018791501406" y="373.7" font-size="6.38" text-anchor="end" fill="#2a2a2a" textLength="11.29" lengthAdjust="spacingAndGlyphs" transform="rotate(-45 364.70018791501406 373.7)" class="tx" >0.02</text>
<line x1="370.199812084986" y1="367" x2="370.199812084986" y2="369" stroke="#333" stroke-width="0.8" />
<text x="372.499812084986" y="373.7" font-size="6.38" text-anchor="end" fill="#2a2a2a" textLength="11.29" lengthAdjust="spacingAndGlyphs" transform="rotate(-45 372.499812084986 373.7)" class="tx" >0.05</text>
<line x1="376.09999999999997" y1="367" x2="376.09999999999997" y2="369" stroke="#333" stroke-width="0.8" />
<text x="378.4" y="373.7" font-size="6.38" text-anchor="end" fill="#2a2a2a" textLength="8.06" lengthAdjust="spacingAndGlyphs" transform="rotate(-45 378.4 373.7)" class="tx" >0.1</text>
<line x1="382.000187915014" y1="367" x2="382.000187915014" y2="369" stroke="#333" stroke-width="0.8" />
<text x="384.300187915014" y="373.7" font-size="6.38" text-anchor="end" fill="#2a2a2a" textLength="8.06" lengthAdjust="spacingAndGlyphs" transform="rotate(-45 384.300187915014 373.7)" class="tx" >0.2</text>
<line x1="389.79981208498594" y1="367" x2="389.79981208498594" y2="369" stroke="#333" stroke-width="0.8" />
<text x="392.09981208498596" y="373.7" font-size="6.38" text-anchor="end" fill="#2a2a2a" textLength="8.06" lengthAdjust="spacingAndGlyphs" transform="rotate(-45 392.09981208498596 373.7)" class="tx" >0.5</text>
<line x1="395.7" y1="367" x2="395.7" y2="369" stroke="#333" stroke-width="0.8" />
<text x="398.0" y="373.7" font-size="6.38" text-anchor="end" fill="#2a2a2a" textLength="3.23" lengthAdjust="spacingAndGlyphs" transform="rotate(-45 398.0 373.7)" class="tx" >1</text>
<line x1="401.60018791501403" y1="367" x2="401.60018791501403" y2="369" stroke="#333" stroke-width="0.8" />
<text x="403.90018791501404" y="373.7" font-size="6.38" text-anchor="end" fill="#2a2a2a" textLength="3.23" lengthAdjust="spacingAndGlyphs" transform="rotate(-45 403.90018791501404 373.7)" class="tx" >2</text>
<line x1="409.39981208498597" y1="367" x2="409.39981208498597" y2="369" stroke="#333" stroke-width="0.8" />
<text x="411.699812084986" y="373.7" font-size="6.38" text-anchor="end" fill="#2a2a2a" textLength="3.23" lengthAdjust="spacingAndGlyphs" transform="rotate(-45 411.699812084986 373.7)" class="tx" >5</text>
<line x1="415.3" y1="367" x2="415.3" y2="369" stroke="#333" stroke-width="0.8" />
<text x="417.6" y="373.7" font-size="6.38" text-anchor="end" fill="#2a2a2a" textLength="6.45" lengthAdjust="spacingAndGlyphs" transform="rotate(-45 417.6 373.7)" class="tx" >10</text>
</svg></div>
</body></html>
